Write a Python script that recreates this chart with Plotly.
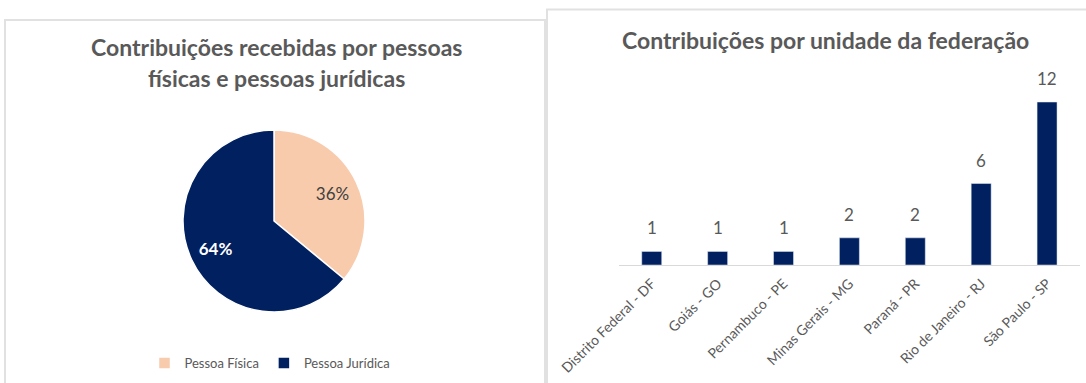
import plotly.graph_objects as go

W, H = 1086, 383

# ---- data ----
pie_labels = ["Pessoa Física", "Pessoa Jurídica"]
pie_values = [36, 64]
pie_colors = ["#F8CBAD", "#002060"]
pie_text_colors = ["#404040", "white"]

uf_labels = ["Distrito Federal - DF", "Goiás - GO", "Pernambuco - PE", "Minas Gerais - MG",
             "Paraná - PR", "Rio de Janeiro - RJ", "São Paulo - SP"]
uf_values = [1, 1, 1, 2, 2, 6, 12]

title_left_1 = "Contribuições recebidas por pessoas"
title_left_2 = "físicas e pessoas jurídicas"
title_right = "Contribuições por unidade da federação"

FONT = "Lato, Calibri, Carlito, sans-serif"
GRAY = "#595959"


def px(x):
    return x / W


def py(y):
    return 1 - y / H


total = sum(pie_values)
pie_text = [f"{round(v / total * 100)}%" for v in pie_values]
pie_text = [pie_text[0], "<b>" + pie_text[1] + "</b>"]

pie_domain = dict(x=[px(274 - 91), px(274 + 91)], y=[py(312), py(130)])

fig = go.Figure()

# filled pie
fig.add_trace(go.Pie(
    labels=pie_labels, values=pie_values, sort=False, direction="clockwise", rotation=0,
    marker=dict(colors=pie_colors, line=dict(color="white", width=1.5)),
    textinfo="none", domain=pie_domain, showlegend=True, hoverinfo="label+percent",
))
# transparent ring carrying the percentage labels (places them further out)
fig.add_trace(go.Pie(
    labels=pie_labels, values=pie_values, sort=False, direction="clockwise", rotation=0,
    hole=0.42,
    marker=dict(colors=["rgba(0,0,0,0)", "rgba(0,0,0,0)"], line=dict(width=0)),
    text=pie_text, textinfo="text", textposition="inside", insidetextorientation="horizontal",
    insidetextfont=dict(family=FONT, size=17, color=pie_text_colors),
    domain=pie_domain, showlegend=False, hoverinfo="skip",
))

fig.add_trace(go.Bar(
    x=uf_labels, y=uf_values, marker=dict(color="#002060"), showlegend=False,
    xaxis="x", yaxis="y", hoverinfo="x+y",
))

for lab, v in zip(uf_labels, uf_values):
    fig.add_annotation(x=lab, y=v, xref="x", yref="y", text=str(v), showarrow=False,
                       yanchor="bottom", yshift=11, font=dict(family=FONT, size=17, color=GRAY))

fig.add_annotation(x=px(276), y=py(47), xref="paper", yref="paper", text="<b>" + title_left_1 + "</b>",
                   showarrow=False, xanchor="center", yanchor="middle",
                   font=dict(family=FONT, size=23, color=GRAY))
fig.add_annotation(x=px(276), y=py(78), xref="paper", yref="paper", text="<b>" + title_left_2 + "</b>",
                   showarrow=False, xanchor="center", yanchor="middle",
                   font=dict(family=FONT, size=23, color=GRAY))
fig.add_annotation(x=px(826), y=py(40), xref="paper", yref="paper", text="<b>" + title_right + "</b>",
                   showarrow=False, xanchor="center", yanchor="middle",
                   font=dict(family=FONT, size=23, color=GRAY))

# panel borders
fig.add_shape(type="rect", xref="paper", yref="paper", x0=px(5), x1=px(545), y0=-0.2, y1=py(20),
              line=dict(color="#E1E1E1", width=2), fillcolor="rgba(0,0,0,0)", layer="below")
fig.add_shape(type="rect", xref="paper", yref="paper", x0=px(547), x1=1.2, y0=-0.2, y1=py(9.5),
              line=dict(color="#E1E1E1", width=2), fillcolor="rgba(0,0,0,0)", layer="below")

fig.update_layout(
    width=W, height=H, margin=dict(l=0, r=0, t=0, b=0, autoexpand=False),
    paper_bgcolor="white", plot_bgcolor="rgba(0,0,0,0)",
    font=dict(family=FONT, color=GRAY),
    bargap=0.697,
    xaxis=dict(domain=[px(618.8), px(1080)], showline=True, linecolor="#D9D9D9", linewidth=1,
               ticks="", tickangle=-45, tickfont=dict(family=FONT, size=14, color=GRAY),
               ticklabelstandoff=4, showgrid=False, zeroline=False, fixedrange=True,
               automargin=False),
    yaxis=dict(domain=[py(265), py(265 - 13 * 13.58)], range=[0, 13], visible=False,
               showgrid=False, zeroline=False, fixedrange=True, automargin=False),
    legend=dict(orientation="h", x=px(270), xanchor="center", y=py(363), yanchor="middle",
                font=dict(family=FONT, size=13, color=GRAY), itemwidth=30,
                bgcolor="rgba(0,0,0,0)"),
)

fig.write_html("out.html")
